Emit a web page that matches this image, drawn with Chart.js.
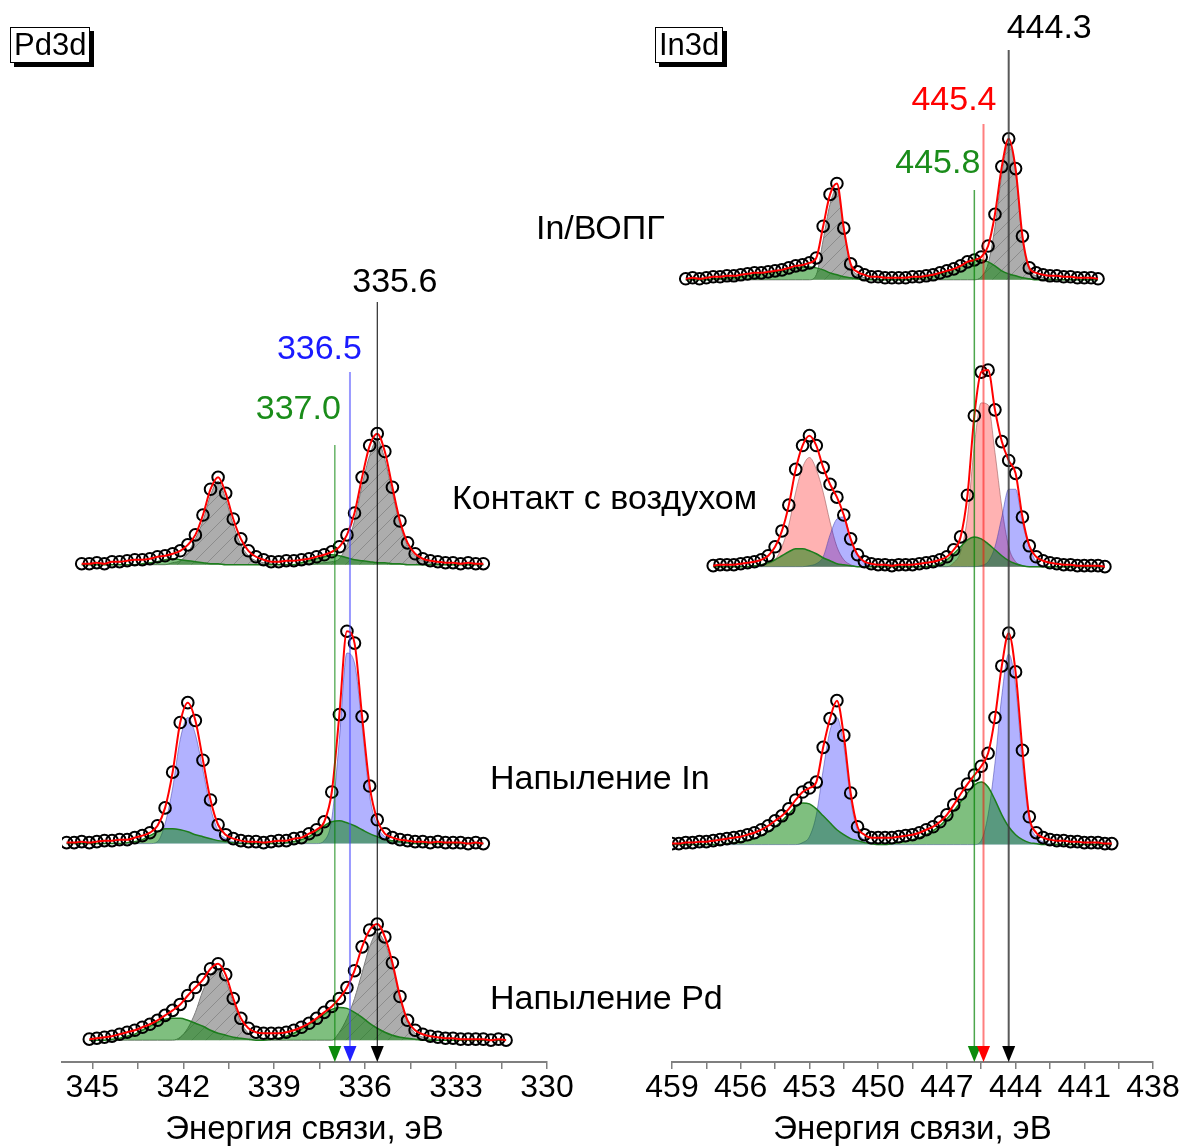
<!DOCTYPE html>
<html>
<head>
<meta charset="utf-8">
<script src="https://cdn.jsdelivr.net/npm/chart.js@4.4.1/dist/chart.umd.min.js"></script>
<style>
  body { margin: 0; background: #fff; width: 1187px; height: 1146px; position: relative; overflow: hidden;
         font-family: "Liberation Sans", Arial, sans-serif; }
  #pd { position: absolute; left: 0; top: 0; }
  #in { position: absolute; left: 600px; top: 0; }
  .lbl { position: absolute; font-size: 34px; line-height: 34px; white-space: nowrap; color: #000; }
  .box { position: absolute; font-size: 31px; line-height: 34px; padding: 0 3px; background: #fff;
         border: 1px solid #000; box-shadow: 4px 4px 0 #000; }
</style>
</head>
<body>
<canvas id="pd" width="600" height="1146"></canvas>
<canvas id="in" width="587" height="1146"></canvas>
<div class="box" style="left:10px;top:27px">Pd3d</div>
<div class="box" style="left:655px;top:27px">In3d</div>
<div class="lbl" style="left:536px;top:210px">In/ВОПГ</div>
<div class="lbl" style="left:452px;top:480px">Контакт с воздухом</div>
<div class="lbl" style="left:490px;top:760px">Напыление In</div>
<div class="lbl" style="left:490px;top:980px">Напыление Pd</div>
<script>
// ---- Pd3d panel ----
const pdEnergy = [345.85,345.6,345.35,345.1,344.85,344.6,344.35,344.1,343.85,343.6,
  343.35,343.1,342.85,342.6,342.35,342.1,341.85,341.6,341.35,341.1,
  340.85,340.6,340.35,340.1,339.85,339.6,339.35,339.1,338.85,338.6,
  338.35,338.1,337.85,337.6,337.35,337.1,336.85,336.6,336.35,336.1,
  335.85,335.6,335.35,335.1,334.85,334.6,334.35,334.1,333.85,333.6,
  333.35,333.1,332.85,332.6,332.35,332.1,331.85,331.6,331.35];
const pdTicks = [345,343.5,342,340.5,339,337.5,336,334.5,333,331.5,330];
const pdLines = [337.0, 336.5, 335.6];

// contact with air
const pdAirData = [null,null,1,1,2,1,3,3,4,5,
  5,6,8,9,11,14,20,30,50,76,
  88,72,46,26,14,8,5,3,3,4,
  4,5,6,8,10,13,18,30,52,88,
  120,132,114,78,44,22,11,6,4,3,
  2,2,1,2,1,1,null,null,null];
const pdAirMetal = [null,null,0,0,0,0,0,0,0,0,
  0,0,0,0,2,4,12,26,44,70,
  84,66,40,20,9,4,2,1,0,0,
  0,0,0,1,2,3,6,20,44,80,
  110,126,106,72,40,19,9,4,2,1,
  0,0,0,0,0,0,null,null,null];
const pdAirOxide = [null,null,0,0,0,0,0,0,0,0,
  1,2,3,5,6,5,4,3,2,1,
  1,0,0,0,0,0,0,0,0,0,
  0,2,4,6,8,10,9,7,5,4,
  3,2,2,1,1,0,0,0,0,0,
  0,0,0,0,0,0,null,null,null];

// In deposited
const pdInData = [1,1,2,1,2,3,3,4,4,6,
  8,11,18,36,72,122,142,124,84,44,
  19,9,5,3,2,2,1,2,3,3,
  5,6,10,14,22,52,130,214,202,128,
  58,24,10,6,4,3,2,2,1,2,
  1,1,1,0,1,0,null,null,null];
const pdInAlloy = [0,0,0,0,0,0,0,0,0,0,
  0,0,2,20,56,105,127,110,74,36,
  13,5,2,1,0,0,0,0,0,0,
  0,0,0,0,3,25,105,192,182,118,
  48,18,7,3,1,0,0,0,0,0,
  0,0,0,0,0,0,null,null,null];
const pdInOxide = [0,0,0,0,0,0,0,0,1,2,
  4,8,12,15,15,14,12,9,7,5,
  3,2,1,0,0,0,0,0,0,1,
  2,4,7,12,18,22,23,21,18,14,
  10,7,4,3,2,1,0,0,0,0,
  0,0,0,0,0,0,null,null,null];

// Pd deposited
const pdPdData = [null,null,null,1,2,3,4,6,8,10,
  13,16,20,25,30,36,45,53,61,72,
  77,66,42,22,12,8,7,7,7,8,
  10,13,17,22,28,34,42,53,70,94,
  111,117,104,78,44,20,10,6,4,3,
  2,2,1,1,1,1,0,1,0];
const pdPdMetal = [null,null,null,0,0,0,0,0,0,0,
  0,0,0,0,0,3,12,28,50,65,
  72,60,38,18,7,2,0,0,0,0,
  0,0,0,0,0,0,8,22,42,68,
  94,108,98,74,42,18,7,3,1,0,
  0,0,0,0,0,0,0,0,0];
const pdPdOxide = [null,null,null,0,0,0,1,2,4,6,
  10,14,18,21,22,22,20,17,14,10,
  7,5,3,2,1,0,0,1,2,4,
  7,11,16,21,26,31,33,32,28,23,
  17,12,8,5,3,2,1,0,0,0,
  0,0,0,0,0,0,0,0,0];

// ---- In3d panel ----
const inEnergy = [459.0,458.7,458.4,458.1,457.8,457.5,457.2,456.9,456.6,456.3,
  456.0,455.7,455.4,455.1,454.8,454.5,454.2,453.9,453.6,453.3,
  453.0,452.7,452.4,452.1,451.8,451.5,451.2,450.9,450.6,450.3,
  450.0,449.7,449.4,449.1,448.8,448.5,448.2,447.9,447.6,447.3,
  447.0,446.7,446.4,446.1,445.8,445.5,445.2,444.9,444.6,444.3,
  444.0,443.7,443.4,443.1,442.8,442.5,442.2,441.9,441.6,441.3,
  441.0,440.7,440.4,440.1,439.8];
const inTicks = [459,457.5,456,454.5,453,451.5,450,448.5,447,445.5,444,442.5,441,439.5,438];
const inLines = [445.8, 445.4, 444.3];

// In on HOPG
const inHopgData = [null,null,1,2,1,2,3,3,4,4,
  5,6,7,7,8,9,10,12,14,15,
  17,22,54,86,97,52,16,8,5,3,
  3,2,2,2,2,3,3,4,5,7,
  9,11,14,18,20,23,34,66,114,142,
  112,44,12,7,5,4,4,3,3,2,
  2,2,1,null,null];
const inHopgMetal = [null,null,0,0,0,0,0,0,0,0,
  0,0,0,0,0,0,0,0,0,0,
  0,5,40,76,92,50,14,5,2,1,
  0,0,0,0,0,0,0,0,0,0,
  0,0,0,0,0,3,16,53,106,138,
  108,40,10,4,2,1,0,0,0,0,
  0,0,0,null,null];
const inHopgOxide = [null,null,0,0,0,0,1,1,2,2,
  3,4,5,6,7,8,9,11,12,13,
  13,12,10,7,5,3,2,1,0,0,
  0,0,0,0,0,1,2,3,4,6,
  8,11,14,17,20,20,18,14,9,6,
  4,2,1,0,0,0,0,0,0,0,
  0,0,0,null,null];

// contact with air
const inAirData = [null,null,null,null,null,null,1,2,2,2,
  3,4,5,7,11,20,36,62,98,122,
  132,122,100,83,70,52,28,12,5,3,
  2,2,1,2,2,2,3,4,5,7,
  10,17,30,72,152,196,198,158,126,107,
  94,50,21,10,6,4,3,2,2,1,
  1,1,1,0,null];
const inAirHydroxide = [null,null,null,null,null,null,0,0,0,0,
  0,0,0,1,3,7,20,42,75,100,
  110,98,75,45,20,7,2,0,0,0,
  0,0,0,0,0,0,0,0,0,0,
  0,4,15,50,122,165,163,115,60,20,
  5,1,0,0,0,0,0,0,0,0,
  0,0,0,0,null];
const inAirMetal = [null,null,null,null,null,null,0,0,0,0,
  0,0,0,0,0,0,0,0,0,0,
  1,3,10,32,48,50,28,11,4,1,
  0,0,0,0,0,0,0,0,0,0,
  0,0,0,0,0,1,5,20,50,78,
  78,44,20,5,1,0,0,0,0,0,
  0,0,0,0,null];
const inAirOxide = [null,null,null,null,null,null,0,0,0,0,
  0,0,1,2,4,7,11,15,18,18,
  16,13,9,6,3,2,1,0,0,0,
  0,0,0,0,0,0,0,0,1,3,
  7,13,20,27,30,28,23,17,11,6,
  3,1,0,0,0,0,0,0,0,0,
  0,0,0,0,null];

// In deposited
const inInData = [1,1,2,2,3,3,4,5,6,7,
  8,10,12,15,19,24,29,36,45,53,
  57,63,98,127,145,110,52,18,10,7,
  7,7,7,8,9,10,12,15,18,23,
  30,40,51,61,70,79,92,128,180,213,
  174,95,28,12,7,5,4,4,3,3,
  2,2,2,1,1];
const inInMetal = [0,0,0,0,0,0,0,0,0,0,
  0,0,0,0,0,0,0,0,0,2,
  8,30,75,115,128,100,45,14,5,2,
  0,0,0,0,0,0,0,0,0,0,
  0,0,0,0,0,4,30,82,150,192,
  160,82,24,8,3,1,0,0,0,0,
  0,0,0,0,0];
const inInOxide = [0,0,0,0,0,0,0,0,1,2,
  3,4,6,9,13,18,24,31,38,42,
  41,36,29,22,15,10,6,4,2,1,
  0,0,1,2,3,5,7,10,14,19,
  26,34,43,52,60,63,58,45,30,18,
  10,5,2,1,0,0,0,0,0,0,
  0,0,0,0,0];

const family = '"Liberation Sans", Arial, sans-serif';
const AREA_H = 1062; // plot height in px, x axis takes the rest

function xy(energy, vals) {
  return energy.map((e, i) => ({ x: e, y: vals[i] }));
}

function hatchPattern() {
  const c = document.createElement('canvas');
  c.width = c.height = 14;
  const g = c.getContext('2d');
  g.fillStyle = '#adadad';
  g.fillRect(0, 0, 14, 14);
  g.strokeStyle = '#8c8c8c';
  g.lineWidth = 1;
  g.beginPath();
  g.moveTo(0, 14); g.lineTo(14, 0);
  g.moveTo(-7, 7); g.lineTo(7, -7);
  g.moveTo(7, 21); g.lineTo(21, 7);
  g.stroke();
  return g.createPattern(c, 'repeat');
}

const fills = {
  gray:  { bg: hatchPattern(), line: '#7d7d7d', w: 1, order: 5 },
  red:   { bg: 'rgba(255,0,0,0.3)', line: 'rgba(150,80,80,0.55)', w: 1, order: 4 },
  blue:  { bg: 'rgba(0,0,255,0.3)', line: 'rgba(60,60,170,0.5)', w: 1, order: 3 },
  green: { bg: 'rgba(0,128,0,0.5)', line: '#1d7d1d', w: 1.5, order: 2 }
};

function spectrum(energy, axis, measured, parts) {
  const sets = parts.map(([vals, kind]) => ({
    data: xy(energy, vals), yAxisID: axis, fill: 'origin',
    backgroundColor: fills[kind].bg, borderColor: fills[kind].line, borderWidth: fills[kind].w,
    pointRadius: 0, cubicInterpolationMode: 'monotone', order: fills[kind].order
  }));
  // measured points
  sets.push({
    data: xy(energy, measured), yAxisID: axis, showLine: false,
    pointRadius: 5.8, pointBorderWidth: 2, pointBorderColor: '#000',
    pointBackgroundColor: 'rgba(0,0,0,0)', order: 1
  });
  // envelope
  sets.push({
    data: xy(energy, measured), yAxisID: axis, fill: false,
    borderColor: '#ff0000', borderWidth: 2, pointRadius: 0,
    cubicInterpolationMode: 'monotone', order: 0
  });
  return sets;
}

function xAxis(min, max, ticks) {
  return {
    type: 'linear', reverse: true, min: min, max: max,
    afterBuildTicks: s => { s.ticks = ticks.map(v => ({ value: v })); },
    afterFit: s => { s.height = 1146 - AREA_H; },
    grid: { drawOnChartArea: false, drawTicks: true, tickLength: 7, color: '#7f7f7f', lineWidth: 1.5 },
    border: { color: '#7f7f7f', width: 2 },
    ticks: {
      autoSkip: false, maxRotation: 0, padding: 0, color: '#000',
      font: { size: 32, family: family },
      callback: v => (v % 3 === 0 ? String(v) : '')
    },
    title: {
      display: true, text: 'Энергия связи, эВ', color: '#000',
      font: { size: 33, family: family, lineHeight: 1 }, padding: { top: 0, bottom: 0 }
    }
  };
}

function yAxis(base) {
  return { display: false, min: base - AREA_H, max: base };
}

const marks = {
  id: 'marks',
  afterDatasetsDraw(chart, args, opts) {
    const ctx = chart.ctx;
    const bottom = chart.chartArea.bottom;
    opts.items.forEach(m => {
      const px = chart.scales.x.getPixelForValue(m.e);
      ctx.save();
      ctx.strokeStyle = m.line;
      ctx.lineWidth = m.w;
      ctx.beginPath();
      ctx.moveTo(px, m.top);
      ctx.lineTo(px, bottom - 14);
      ctx.stroke();
      ctx.fillStyle = m.head;
      ctx.beginPath();
      ctx.moveTo(px - 6.5, bottom - 16);
      ctx.lineTo(px + 6.5, bottom - 16);
      ctx.lineTo(px, bottom);
      ctx.closePath();
      ctx.fill();
      ctx.font = '34px ' + family;
      ctx.fillStyle = m.text;
      ctx.textAlign = m.align;
      ctx.textBaseline = 'middle';
      ctx.fillText(m.e.toFixed(1), px + m.dx, m.ty);
      ctx.restore();
    });
  }
};

const common = {
  responsive: false, animation: false, devicePixelRatio: 1,
  events: []
};

new Chart(document.getElementById('pd'), {
  type: 'line',
  data: {
    datasets: [
      ...spectrum(pdEnergy, 'yAir', pdAirData, [[pdAirMetal, 'gray'], [pdAirOxide, 'green']]),
      ...spectrum(pdEnergy, 'yIn', pdInData, [[pdInAlloy, 'blue'], [pdInOxide, 'green']]),
      ...spectrum(pdEnergy, 'yPd', pdPdData, [[pdPdMetal, 'gray'], [pdPdOxide, 'green']])
    ]
  },
  options: {
    ...common,
    layout: { padding: { left: 62, right: 53, top: 0, bottom: 0 } },
    plugins: {
      legend: { display: false }, tooltip: { enabled: false },
      marks: {
        items: [
          { e: pdLines[0], top: 445, line: 'rgba(0,128,0,0.6)', w: 1.5, head: '#0c8a0c', text: '#1a8c1a', align: 'right', dx: 6, ty: 410 },
          { e: pdLines[1], top: 372, line: 'rgba(70,70,255,0.55)', w: 2, head: '#2020ff', text: '#1a1aff', align: 'right', dx: 12, ty: 350 },
          { e: pdLines[2], top: 302, line: '#000', w: 1, head: '#000', text: '#000', align: 'left', dx: -25, ty: 283 }
        ]
      }
    },
    scales: {
      x: xAxis(330, 346, pdTicks),
      yAir: yAxis(561),
      yIn: yAxis(842),
      yPd: yAxis(1040)
    }
  },
  plugins: [marks]
});

new Chart(document.getElementById('in'), {
  type: 'line',
  data: {
    datasets: [
      ...spectrum(inEnergy, 'yHopg', inHopgData, [[inHopgMetal, 'gray'], [inHopgOxide, 'green']]),
      ...spectrum(inEnergy, 'yAir', inAirData, [[inAirHydroxide, 'red'], [inAirMetal, 'blue'], [inAirOxide, 'green']]),
      ...spectrum(inEnergy, 'yIn', inInData, [[inInMetal, 'blue'], [inInOxide, 'green']])
    ]
  },
  options: {
    ...common,
    layout: { padding: { left: 72, right: 34, top: 0, bottom: 0 } },
    plugins: {
      legend: { display: false }, tooltip: { enabled: false },
      marks: {
        items: [
          { e: inLines[0], top: 190, line: 'rgba(0,128,0,0.7)', w: 1.5, head: '#0c8a0c', text: '#1a8c1a', align: 'right', dx: 6, ty: 164 },
          { e: inLines[1], top: 124, line: 'rgba(255,0,0,0.5)', w: 2, head: '#ff0000', text: '#ff0000', align: 'right', dx: 13, ty: 101 },
          { e: inLines[2], top: 50, line: 'rgba(60,60,60,0.85)', w: 2, head: '#000', text: '#000', align: 'left', dx: -2, ty: 29 }
        ]
      }
    },
    scales: {
      x: xAxis(438, 459, inTicks),
      yHopg: yAxis(274),
      yAir: yAxis(563),
      yIn: yAxis(843)
    }
  },
  plugins: [marks]
});
</script>
</body>
</html>
